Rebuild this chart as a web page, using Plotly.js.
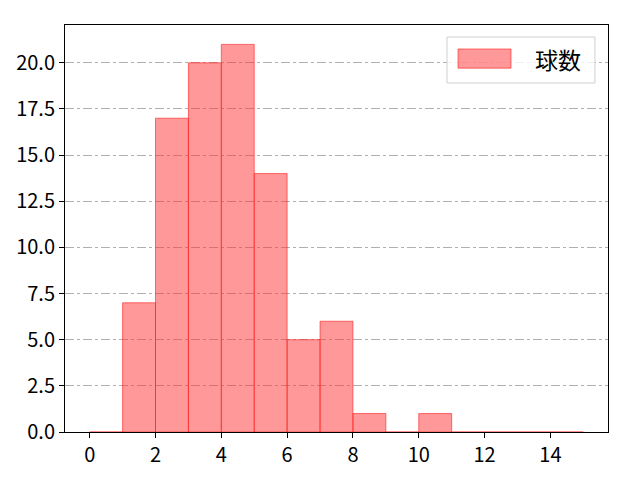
<!DOCTYPE html>
<html>
<head>
<meta charset="utf-8">
<script src="https://cdn.plot.ly/plotly-3.0.1.min.js"></script>
<style>
  html, body { margin: 0; padding: 0; background: #fff; }
  #chart { width: 640px; height: 480px; }
</style>
</head>
<body>
<div id="chart"></div>
<script>
// histogram bins (left edges) and counts
const binEdges = [0, 1, 2, 3, 4, 5, 6, 7, 8, 9, 10, 11, 12, 13, 14];
const counts = [0, 7, 17, 20, 21, 14, 5, 6, 1, 0, 1, 0, 0, 0, 0];
const seriesName = "球数";
const xTicks = [0, 2, 4, 6, 8, 10, 12, 14];
const yTicks = [0, 2.5, 5, 7.5, 10, 12.5, 15, 17.5, 20];

const fillColor = "rgba(255, 50, 50, 0.5)";
const edgeColor = "rgba(255, 30, 30, 0.6)";

const trace = {
  type: "bar",
  name: seriesName,
  x: binEdges.map((e) => e + 0.5),
  y: counts,
  width: 1,
  showlegend: false,
  marker: {
    color: fillColor,
    line: { color: edgeColor, width: 1 },
  },
};

// legend drawn by hand so the patch is wide like the original
const legendShapes = [
  {
    type: "rect", xref: "paper", yref: "paper",
    x0: 0.7035, x1: 0.976, y0: 0.8575, y1: 0.9705,
    fillcolor: "rgba(255,255,255,0.8)",
    line: { color: "#d0d0d0", width: 1 },
  },
  {
    type: "rect", xref: "paper", yref: "paper",
    x0: 0.7238, x1: 0.8214, y0: 0.894, y1: 0.941,
    fillcolor: fillColor,
    line: { color: edgeColor, width: 1 },
  },
];

const layout = {
  width: 640,
  height: 480,
  margin: { l: 65, r: 32, t: 25, b: 48 },
  paper_bgcolor: "#fff",
  plot_bgcolor: "#fff",
  font: { family: "Noto Sans CJK JP, sans-serif", size: 20, color: "#000" },
  showlegend: false,
  bargap: 0,
  shapes: legendShapes,
  annotations: [
    {
      xref: "paper", yref: "paper",
      x: 0.908, y: 0.9165,
      xanchor: "center", yanchor: "middle",
      text: seriesName,
      showarrow: false,
      font: { size: 23 },
    },
  ],
  xaxis: {
    range: [-0.75, 15.75],
    tickvals: xTicks,
    ticktext: xTicks.map(String),
    ticks: "outside",
    ticklen: 5,
    tickcolor: "#000",
    showgrid: false,
    zeroline: false,
    showline: true,
    linecolor: "#000",
    mirror: true,
  },
  yaxis: {
    range: [0, 22.05],
    tickvals: yTicks,
    ticktext: yTicks.map((v) => v.toFixed(1)),
    ticks: "outside",
    ticklen: 5,
    tickcolor: "#000",
    showgrid: true,
    gridcolor: "#b0b0b0",
    griddash: "dashdot",
    gridwidth: 1,
    zeroline: false,
    showline: true,
    linecolor: "#000",
    mirror: true,
  },
};

Plotly.newPlot("chart", [trace], layout, { staticPlot: true });
</script>
</body>
</html>
